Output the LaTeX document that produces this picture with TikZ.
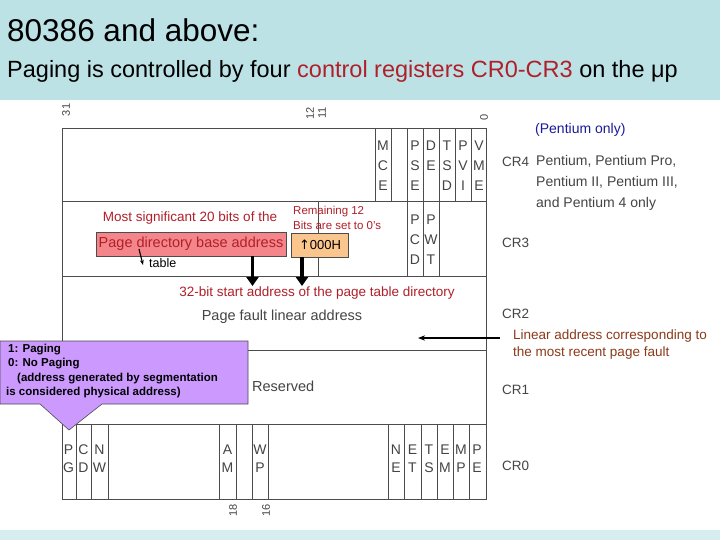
\documentclass[tikz,border=0pt]{standalone}
\usepackage{fontspec}
\setmainfont{Liberation Sans}
\usetikzlibrary{arrows.meta}
\definecolor{hdr}{HTML}{BDE2E6}
\definecolor{dred}{HTML}{B0202A}
\definecolor{brn}{HTML}{8B3A1A}
\definecolor{pblue}{HTML}{1A1A9A}
\definecolor{gtxt}{HTML}{444444}
\definecolor{rbox}{HTML}{F4858A}
\definecolor{obox}{HTML}{FBC58E}
\definecolor{purp}{HTML}{CC99FF}
\tikzset{
 reg/.style={draw=gray!60!black,line width=0.9pt},
 bit/.style={font=\fontsize{14}{15}\selectfont,text=gtxt,inner sep=0pt,anchor=center},
 crl/.style={font=\fontsize{13.5}{15}\selectfont,text=gtxt,anchor=west,inner sep=0pt},
 num/.style={font=\fontsize{11}{12}\selectfont,text=gtxt,rotate=90,inner sep=0pt},
 fat/.style={line width=3.5pt,-{Triangle[length=9pt,width=12pt]}},
}
\begin{document}
\begin{tikzpicture}[x=1pt,y=-1pt]
\useasboundingbox (0,0) rectangle (720,540);
\fill[white] (0,0) rectangle (720,540);
\fill[hdr] (0,0) rectangle (720,100);
\fill[hdr!60] (0,530) rectangle (720,540);
\node[anchor=west,inner sep=0pt,font=\fontsize{31.5}{34}\selectfont] (t1) at (7,30) {80386 and above:};
\node[anchor=west,inner sep=0pt,font=\fontsize{23.5}{26}\selectfont] (t2) at (7,71) {Paging is controlled by four \textcolor{dred}{control registers CR0-CR3} on the μp};
% register frame
\draw[reg] (62,128) rectangle (486,499);
\foreach \y in {201,276,350,424} \draw[reg] (62,\y) -- (486,\y);
% CR4 columns
\foreach \x in {375,391,407,423,439,455,471} \draw[reg] (\x,128) -- (\x,201);
\foreach \x/\a/\b/\c in {383/M/C/E,415/P/S/E,431/D/E/,447/T/S/D,463/P/V/I,479/V/M/E}{
 \node[bit] at (\x,146) {\a}; \node[bit] at (\x,166) {\b}; \node[bit] at (\x,186) {\c};}
% CR3 columns
\foreach \x in {318,407,423,439} \draw[reg] (\x,201) -- (\x,276);
\foreach \x/\a/\b/\c in {415/P/C/D,431/P/W/T}{
 \node[bit] at (\x,220) {\a}; \node[bit] at (\x,240) {\b}; \node[bit] at (\x,260) {\c};}
% CR0 columns
\foreach \x in {76,91,108,219,236,252,268,388,404,421,437,453,469} \draw[reg] (\x,424) -- (\x,499);
\foreach \x/\a/\b in {68.5/P/G,83.5/C/D,99.5/N/W,227.5/A/M,260/W/P,396/N/E,412.5/E/T,429/T/S,445/E/M,461/M/P,477/P/E}{
 \node[bit] at (\x,450) {\a}; \node[bit] at (\x,468) {\b};}
% bit numbers
\node[num] at (66,110) {31};
\node[num] at (310,113) {12};
\node[num] at (322,113) {11};
\node[num] at (484,117) {0};
\node[num] at (233,510) {18};
\node[num] at (266,510) {16};
% CR labels
\node[crl] (cr4) at (502,162) {CR4};
\node[crl] (cr3) at (502,243) {CR3};
\node[crl] (cr2) at (502,314) {CR2};
\node[crl] (cr1) at (502,390) {CR1};
\node[crl] (cr0) at (502,466) {CR0};
\node[anchor=west,inner sep=0pt,text=gtxt,font=\fontsize{14}{21}\selectfont,align=left] (pent) at (536,183) {Pentium, Pentium Pro,\\Pentium II, Pentium III,\\and Pentium 4 only};
\node[anchor=west,inner sep=0pt,text=pblue,font=\fontsize{14}{16}\selectfont] (ponly) at (535,130) {(Pentium only)};
% CR3 annotations
\node[anchor=center,inner sep=0pt,text=dred,font=\fontsize{13.5}{15}\selectfont] (ms) at (190,218) {Most significant 20 bits of the};
\node[draw=black!70,fill=rbox,minimum width=190pt,minimum height=24pt,inner sep=0pt,text=dred,font=\fontsize{14.5}{16}\selectfont] (pdb) at (191,244) {Page directory base address};
\node[draw=black!70,fill=obox,minimum width=57pt,minimum height=24pt,inner sep=0pt,font=\fontsize{13}{15}\selectfont] (zero) at (320,245) {{\fontspec{DejaVu Sans}↑}000H};
\node[anchor=west,inner sep=0pt,align=left,text=dred,font=\fontsize{11.5}{15}\selectfont] (rem) at (293,218) {Remaining 12\\Bits are set to 0's};
\node[anchor=west,inner sep=0pt,font=\fontsize{12.5}{14}\selectfont] (tbl) at (149,263) {table};
\coordinate (ta) at (139,249);
\coordinate (tb) at (143,265);
\draw[-{Stealth[length=5pt]},line width=1.2pt] (ta) -- (tb);
\coordinate (f1) at (252.5,286);
\coordinate (f2) at (302,286);
\draw[fat] (pdb.south -| f1) -- (f1);
\draw[fat] (zero.south -| f2) -- (f2);
\node[anchor=center,inner sep=0pt,text=dred,font=\fontsize{13.5}{15}\selectfont] (s32) at (317,293) {32-bit start address of the page table directory};
\node[anchor=center,inner sep=0pt,text=gtxt,font=\fontsize{14.5}{16}\selectfont] (pfl) at (282,317) {Page fault linear address};
\node[anchor=west,inner sep=0pt,text=gtxt,font=\fontsize{14.5}{16}\selectfont] (res) at (252,386) {Reserved};
% linear address note
\node[anchor=west,inner sep=0pt,align=left,text=brn,font=\fontsize{13.5}{17}\selectfont] (lin) at (513,345) {Linear address corresponding to\\the most recent page fault};
\coordinate (la) at (418,338);
\draw[-{Stealth[length=7pt]},line width=1.2pt] (500,338) -- (la);
% purple callout
\fill[purp,draw=black!70,line width=0.6pt] (0,341) -- (248,341) -- (248,404) -- (102,404) -- (69,430) -- (40,404) -- (0,404) -- cycle;
\node[anchor=north west,inner sep=0pt,align=left,font=\bfseries\fontsize{11.5}{14.3}\selectfont] (call) at (6,344) {\hspace*{2pt}1: Paging\\\hspace*{2pt}0: No Paging\\\hspace*{11pt}(address generated by segmentation\\is considered physical address)};
\end{tikzpicture}
\end{document}
